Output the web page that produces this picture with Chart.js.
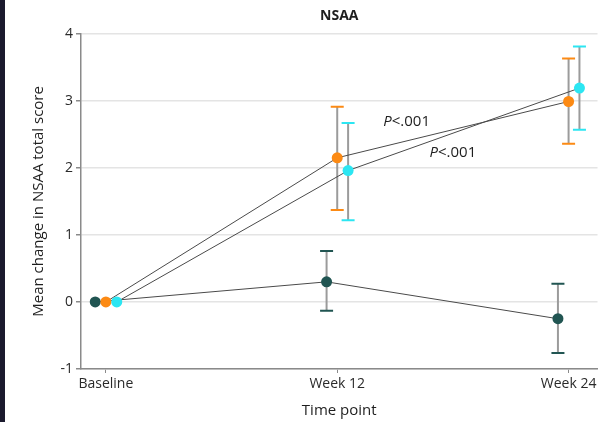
<!DOCTYPE html>
<html>
<head>
<meta charset="utf-8">
<script src="https://cdn.jsdelivr.net/npm/chart.js@4/dist/chart.umd.min.js"></script>
<style>
  html, body { margin: 0; padding: 0; background: #fff; }
  #wrap { width: 598px; height: 422px; border-left: 5px solid #1b1a2e; }
</style>
</head>
<body>
<div id="wrap"><canvas id="nsaa" width="598" height="422"></canvas></div>
<script>
// time points (x positions 0,1,2)
var timePoints = ["Baseline", "Week 12", "Week 24"];
var groupNames = ["Group 1", "Group 2", "Group 3"];
var groupColors = ["#215552", "#fc8a14", "#2ce6f2"];
var groupShift = [-0.046, 0, 0.047];   // small horizontal dodge

var meanG1 = [0, 0.30, -0.25];
var lowG1 = [0, -0.13, -0.76];
var highG1 = [0, 0.76, 0.27];

var meanG2 = [0, 2.15, 2.99];
var lowG2 = [0, 1.37, 2.36];
var highG2 = [0, 2.91, 3.63];

var meanG3 = [0, 1.96, 3.19];
var lowG3 = [0, 1.22, 2.57];
var highG3 = [0, 2.67, 3.81];

var pLabels = ["<.001", "<.001"];
var pLabelX = [1.30, 1.50];
var pLabelY = [2.69, 2.22];

var yTicks = [-1, 0, 1, 2, 3, 4];

var means = [meanG1, meanG2, meanG3];
var lows = [lowG1, lowG2, lowG3];
var highs = [highG1, highG2, highG3];

var datasets = [];
for (var g = 0; g < 3; g++) {
  datasets.push({
    label: groupNames[g],
    data: means[g].map(function (v, i) { return { x: i + groupShift[g], y: v }; }),
    borderColor: "#4a4a4a",
    borderWidth: 1,
    backgroundColor: groupColors[g],
    pointBackgroundColor: groupColors[g],
    pointBorderWidth: 0,
    pointRadius: 5.5,
    pointHoverRadius: 5.5,
    showLine: true,
    tension: 0,
    lo: lows[g],
    hi: highs[g],
    order: 3 - g
  });
}

var errorBars = {
  id: "errorBars",
  beforeDatasetsDraw: function (chart) {
    var ctx = chart.ctx, xs = chart.scales.x, ys = chart.scales.y;
    ctx.save();
    chart.data.datasets.forEach(function (ds, g) {
      ds.data.forEach(function (p, i) {
        if (ds.hi[i] === ds.lo[i]) return;
        var x = xs.getPixelForValue(p.x);
        var yt = ys.getPixelForValue(ds.hi[i]);
        var yb = ys.getPixelForValue(ds.lo[i]);
        ctx.strokeStyle = "#9b9b9b";
        ctx.lineWidth = 2;
        ctx.beginPath(); ctx.moveTo(x, yt); ctx.lineTo(x, yb); ctx.stroke();
        ctx.strokeStyle = groupColors[g];
        ctx.beginPath();
        ctx.moveTo(x - 6.5, yt); ctx.lineTo(x + 6.5, yt);
        ctx.moveTo(x - 6.5, yb); ctx.lineTo(x + 6.5, yb);
        ctx.stroke();
      });
    });
    ctx.restore();
  },
  afterDatasetsDraw: function (chart) {
    var ctx = chart.ctx, xs = chart.scales.x, ys = chart.scales.y;
    ctx.save();
    ctx.fillStyle = "#1e1e1e";
    ctx.textBaseline = "middle";
    for (var k = 0; k < pLabels.length; k++) {
      var x = xs.getPixelForValue(pLabelX[k]);
      var y = ys.getPixelForValue(pLabelY[k]);
      ctx.font = "italic 15px 'Open Sans'";
      var w1 = ctx.measureText("P").width;
      ctx.font = "15px 'Open Sans'";
      var w2 = ctx.measureText(pLabels[k]).width;
      var x0 = x - (w1 + w2) / 2;
      ctx.font = "italic 15px 'Open Sans'";
      ctx.fillText("P", x0, y);
      ctx.font = "15px 'Open Sans'";
      ctx.fillText(pLabels[k], x0 + w1, y);
    }
    ctx.restore();
  }
};

var ctx = document.getElementById("nsaa");
var myChart = new Chart(ctx, {
  type: 'scatter',
  data: { datasets: datasets },
  plugins: [errorBars],
  options: {
    responsive: false,
    animation: false,
    layout: { padding: { top: 0, right: 3, bottom: 0, left: 0 } },
    plugins: {
      legend: { display: false },
      tooltip: { enabled: false },
      title: {
        display: true,
        text: 'NSAA',
        fullSize: false,
        color: '#1e1e1e',
        font: { family: "'Open Sans'", size: 14, weight: 'bold' },
        padding: { top: 8, bottom: 9 }
      }
    },
    scales: {
      x: {
        type: 'linear',
        min: -0.1075,
        max: 2.125,
        afterBuildTicks: function (s) { s.ticks = timePoints.map(function (t, i) { return { value: i }; }); },
        afterFit: function (s) { s.height = 53; },
        ticks: {
          color: '#2a2a2a',
          font: { family: "'Open Sans'", size: 14 },
          padding: 3,
          callback: function (v) { return timePoints[v]; }
        },
        grid: { drawOnChartArea: false, drawTicks: true, tickLength: 4, tickColor: '#8a8a8a' },
        border: { color: '#8a8a8a', width: 1.5 },
        title: {
          display: true,
          text: 'Time point',
          color: '#1e1e1e',
          font: { family: "'Open Sans'", size: 15 },
          padding: { top: 0, bottom: 2 }
        }
      },
      y: {
        min: -1,
        max: 4,
        afterBuildTicks: function (s) { s.ticks = yTicks.map(function (v) { return { value: v }; }); },
        afterFit: function (s) { s.width = 76; },
        ticks: {
          color: '#2a2a2a',
          font: { family: "'Open Sans'", size: 14 },
          padding: 3
        },
        grid: { color: '#e4e4e4', lineWidth: 1.5, tickLength: 5, tickColor: '#8a8a8a' },
        border: { color: '#8a8a8a', width: 1.5 },
        title: {
          display: true,
          text: 'Mean change in NSAA total score',
          color: '#1e1e1e',
          font: { family: "'Open Sans'", size: 15 },
          padding: { top: 25, bottom: 0 }
        }
      }
    }
  }
});
</script>
</body>
</html>
